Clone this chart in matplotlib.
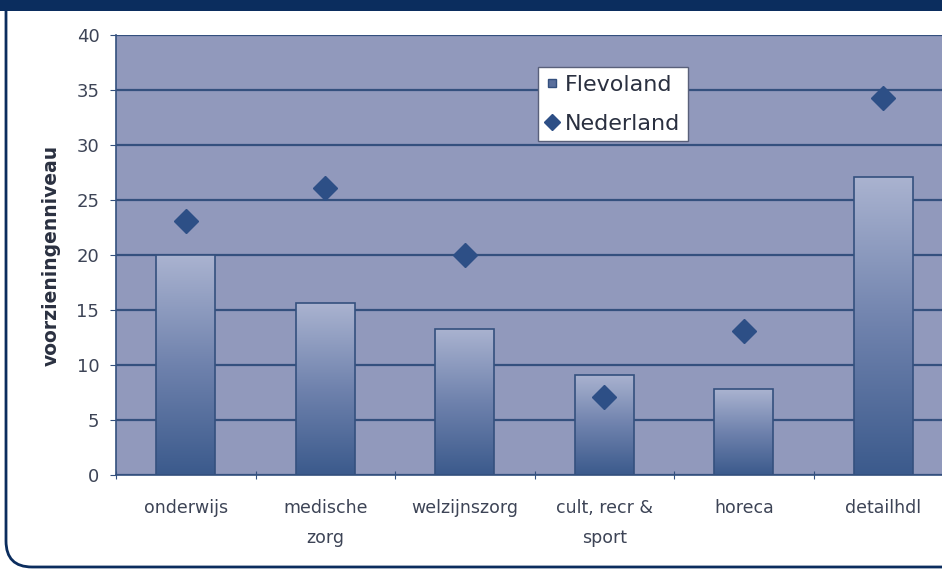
import numpy as np
import matplotlib.pyplot as plt
from matplotlib.patches import FancyBboxPatch, Rectangle
from matplotlib.lines import Line2D
from matplotlib.colors import LinearSegmentedColormap

categories = ['onderwijs', 'medische\nzorg', 'welzijnszorg', 'cult, recr &\nsport', 'horeca', 'detailhdl']
flevoland = [20.0, 15.6, 13.3, 9.1, 7.8, 27.1]
nederland = [23.1, 26.1, 20.0, 7.1, 13.1, 34.3]
yticks = [0, 5, 10, 15, 20, 25, 30, 35, 40]

navy = '#0b2d5e'
grid_col = '#34507e'
plot_bg = '#9199bc'
text_col = '#3d4456'

plt.rcParams['font.family'] = ['DejaVu Sans']

fig = plt.figure(figsize=(9.42, 5.70), dpi=100)

# frame: header band + rounded white panel
frame = fig.add_axes([0, 0, 1, 1], zorder=0)
frame.set_xlim(0, 942)
frame.set_ylim(570, 0)
frame.axis('off')
frame.add_patch(FancyBboxPatch((6, -60), 1100, 627, boxstyle='round,pad=0,rounding_size=26',
                               facecolor='white', edgecolor=navy, linewidth=2))
frame.add_patch(Rectangle((0, 0), 942, 11, facecolor=navy, edgecolor='none', zorder=3))

ax = fig.add_axes([116 / 942, 1 - 475 / 570, 837 / 942, 440 / 570], zorder=1)
ax.set_facecolor(plot_bg)

x = np.arange(len(categories))
bars = ax.bar(x, flevoland, width=0.42, facecolor='none', edgecolor=grid_col, linewidth=1.2, zorder=3)

# vertical gradient inside each bar
grad = np.linspace(0, 1, 256).reshape(-1, 1)
cmap = LinearSegmentedColormap.from_list('bar', ['#3b5a8c', '#6f82ad', '#aab3d0'])
for b in bars:
    x0, y0 = b.get_x(), b.get_y()
    w, h = b.get_width(), b.get_height()
    im = ax.imshow(grad, cmap=cmap, extent=[x0, x0 + w, y0, y0 + h], origin='lower',
                   aspect='auto', zorder=2)
    im.set_clip_path(b)

ax.plot(x, nederland, linestyle='none', marker='D', markersize=12, color='#2d4f86', zorder=4)

ax.set_xlim(-0.5, len(categories) - 0.5)
ax.set_ylim(0, 40)
ax.set_yticks(yticks)
ax.yaxis.grid(True, color=grid_col, linewidth=1.6, zorder=1)
ax.set_axisbelow(True)

ax.set_xticks(np.arange(len(categories) + 1) - 0.5)
ax.set_xticklabels([])
ax.set_xticks(x, minor=True)
ax.set_xticklabels(categories, minor=True, fontsize=12.5, color=text_col, linespacing=1.85)
ax.tick_params(axis='x', which='minor', length=0, pad=17)
ax.tick_params(axis='x', which='major', length=6, color=grid_col, direction='inout')
ax.tick_params(axis='y', length=4, color=grid_col, labelsize=13, labelcolor=text_col, pad=8)

for s in ['top', 'right']:
    ax.spines[s].set_visible(False)
for s in ['left', 'bottom']:
    ax.spines[s].set_color(grid_col)
    ax.spines[s].set_linewidth(1.2)

ax.set_ylabel('voorzieningenniveau', fontsize=13.5, fontweight='bold', color='#2a3040',
              labelpad=11)

handles = [Line2D([], [], linestyle='none', marker='s', markersize=6, color='#5a6f9c',
                  markeredgecolor=grid_col),
           Line2D([], [], linestyle='none', marker='D', markersize=8, color='#2d4f86')]
leg = ax.legend(handles, ['Flevoland', 'Nederland'], loc='upper left',
                bbox_to_anchor=((538 - 116) / 837, (475 - 67) / 440), fontsize=16,
                frameon=True, fancybox=False, edgecolor='#59607a', handlelength=0.6,
                handletextpad=0.25, borderpad=0.35, labelspacing=0.85, borderaxespad=0)
leg.get_frame().set_linewidth(1.0)
leg.get_frame().set_alpha(1)
for t in leg.get_texts():
    t.set_color('#2a3040')

fig.savefig('out.png', dpi=100)
